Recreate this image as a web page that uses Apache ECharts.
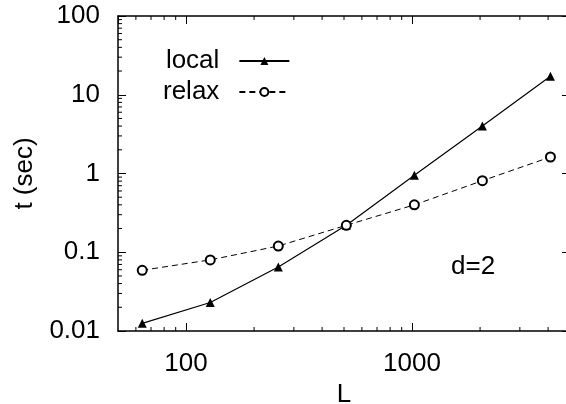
<!DOCTYPE html>
<html>
<head>
<meta charset="utf-8">
<script src="https://cdn.jsdelivr.net/npm/echarts@6/dist/echarts.min.js"></script>
<style>
  html, body { margin: 0; padding: 0; background: #fff; }
  #chart { width: 566px; height: 404px; }
</style>
</head>
<body>
<div id="chart"></div>
<script>
// system sizes L
const sizes = [64, 128, 256, 512, 1024, 2048, 4096];
// run time t (sec)
const localTimes = [0.0125, 0.023, 0.065, 0.22, 0.95, 4.0, 17.2];
const relaxTimes = [0.059, 0.08, 0.12, 0.22, 0.4, 0.81, 1.62];
// minor tick values (log axes)
const xMinorTicks = [60, 70, 80, 90, 200, 300, 400, 500, 600, 700, 800, 900, 2000, 3000, 4000];
const yMinorTicks = [0.02, 0.03, 0.04, 0.05, 0.06, 0.07, 0.08, 0.09,
  0.2, 0.3, 0.4, 0.5, 0.6, 0.7, 0.8, 0.9, 2, 3, 4, 5, 6, 7, 8, 9,
  20, 30, 40, 50, 60, 70, 80, 90];

const xMin = 50, xMax = 5000, yMin = 0.01, yMax = 100;
const font = 'Liberation Sans, Arial, sans-serif';
const chart = echarts.init(document.getElementById('chart'));

const axisCommon = {
  type: 'log',
  logBase: 10,
  axisLine: { show: true, lineStyle: { color: '#000', width: 1.5 } },
  axisTick: { show: true, inside: true, length: 8, lineStyle: { color: '#000', width: 1 } },
  minorTick: { show: false },
  splitLine: { show: false },
  axisLabel: {
    color: '#000', fontFamily: font, fontSize: 26,
    showMinLabel: false, showMaxLabel: false,
    formatter: v => String(v)
  }
};

// short minor tick marks drawn through the axis scales
function tickLine(p, dx, dy) {
  return {
    type: 'line',
    shape: { x1: p[0], y1: p[1], x2: p[0] + dx, y2: p[1] + dy },
    style: { stroke: '#000', lineWidth: 1 }
  };
}

const option = {
  animation: false,
  grid: { left: 118, right: -4, top: 16, bottom: 73, outerBoundsMode: 'none' },
  xAxis: [
    Object.assign({}, axisCommon, {
      min: xMin, max: xMax,
      name: 'L', nameLocation: 'middle', nameGap: 50,
      nameTextStyle: { color: '#000', fontFamily: font, fontSize: 26 },
      axisLabel: Object.assign({}, axisCommon.axisLabel, { margin: 20 })
    }),
    Object.assign({}, axisCommon, {
      min: xMin, max: xMax, position: 'top',
      axisLabel: { show: false }
    })
  ],
  yAxis: [
    Object.assign({}, axisCommon, {
      min: yMin, max: yMax,
      name: 't (sec)', nameLocation: 'middle', nameGap: 80, nameRotate: 90,
      nameTextStyle: { color: '#000', fontFamily: font, fontSize: 26 },
      axisLabel: Object.assign({}, axisCommon.axisLabel, { showMinLabel: true, showMaxLabel: true, margin: 18 })
    }),
    Object.assign({}, axisCommon, {
      min: yMin, max: yMax, position: 'right',
      axisLabel: { show: false }
    })
  ],
  legend: {
    orient: 'vertical',
    left: 158, top: 43,
    align: 'right',
    itemWidth: 50, itemHeight: 10, itemGap: 5,
    textStyle: { color: '#000', fontFamily: font, fontSize: 26, width: 64, align: 'right', padding: [0, 15, 0, 0] },
    data: ['local', 'relax']
  },
  graphic: [
    { type: 'text', left: 451, top: 254,
      style: { text: 'd=2', fill: '#000', font: '26px Liberation Sans, Arial, sans-serif' } }
  ],
  series: [
    {
      name: 'local', type: 'line',
      data: sizes.map((s, i) => [s, localTimes[i]]),
      symbol: 'triangle', symbolSize: 9,
      itemStyle: { color: '#000' },
      lineStyle: { color: '#000', width: 1.2 }
    },
    {
      name: 'relax', type: 'line',
      data: sizes.map((s, i) => [s, relaxTimes[i]]),
      symbol: 'emptyCircle', symbolSize: 9,
      itemStyle: { color: '#000', borderColor: '#000', borderWidth: 1 },
      lineStyle: { color: '#000', width: 1, type: [6, 4] }
    },
    {
      name: 'xMinor', type: 'custom', clip: false, silent: true,
      data: xMinorTicks.map(v => [v, yMin]),
      renderItem: (params, api) => {
        const v = api.value(0);
        const b = api.coord([v, yMin]);
        const t = api.coord([v, yMax]);
        return { type: 'group', children: [tickLine(b, 0, -4), tickLine(t, 0, 4)] };
      }
    },
    {
      name: 'yMinor', type: 'custom', clip: false, silent: true,
      data: yMinorTicks.map(v => [xMin, v]),
      renderItem: (params, api) => {
        const v = api.value(1);
        const l = api.coord([xMin, v]);
        const r = api.coord([xMax, v]);
        return { type: 'group', children: [tickLine(l, 4, 0), tickLine(r, -4, 0)] };
      }
    }
  ]
};
chart.setOption(option);
</script>
</body>
</html>
